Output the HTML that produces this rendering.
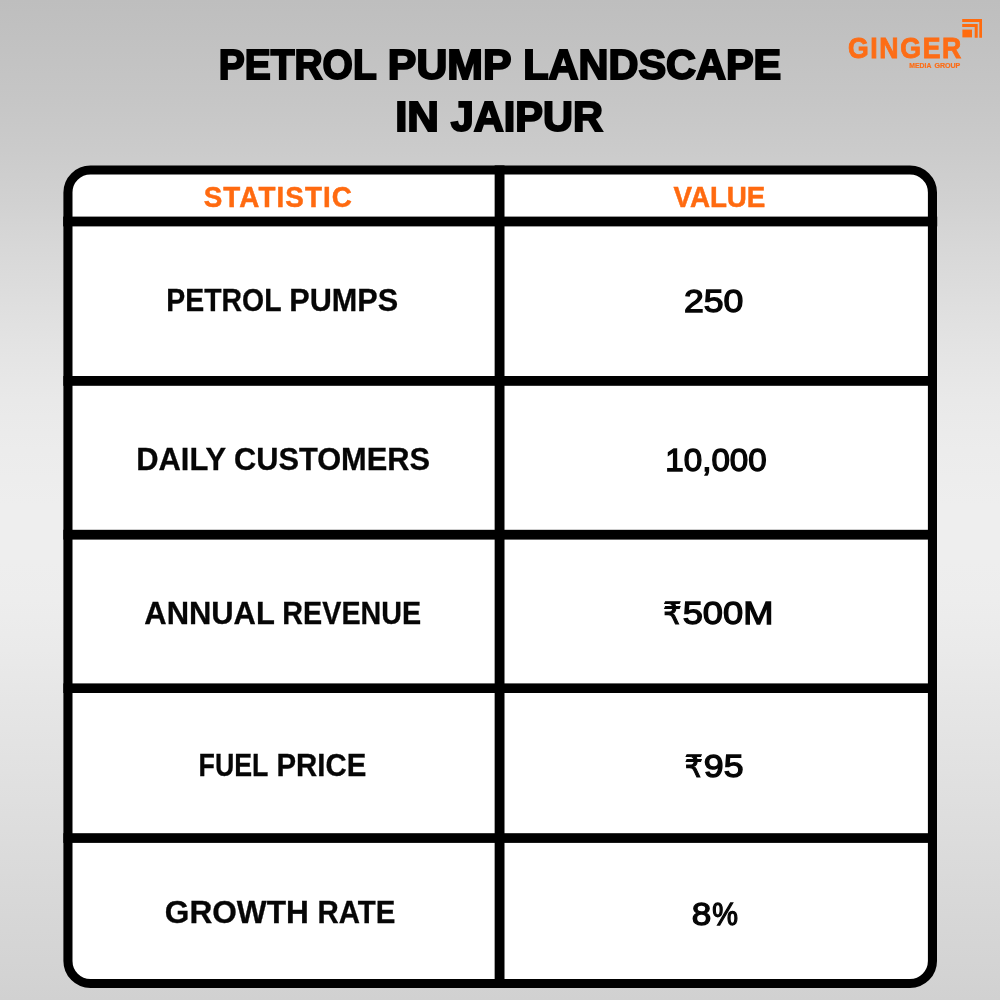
<!DOCTYPE html>
<html lang="en">
<head>
<meta charset="utf-8">
<title>Petrol Pump Landscape in Jaipur</title>
<style>
html,body{margin:0;padding:0;background:#cfcfcf;}
body{width:1000px;height:1000px;overflow:hidden;}
svg{display:block;will-change:transform;}
text{font-family:"Liberation Sans","DejaVu Sans",sans-serif;font-weight:700;stroke-linejoin:miter;stroke-miterlimit:3;}
</style>
</head>
<body>
<svg width="1000" height="1000" viewBox="0 0 1000 1000">
<defs>
<linearGradient id="bg" x1="0" y1="0" x2="0" y2="1">
<stop offset="0.000" stop-color="#bebebe"/>
<stop offset="0.100" stop-color="#c6c6c6"/>
<stop offset="0.150" stop-color="#cbcbcb"/>
<stop offset="0.200" stop-color="#d1d1d1"/>
<stop offset="0.250" stop-color="#d8d8d8"/>
<stop offset="0.300" stop-color="#dedede"/>
<stop offset="0.350" stop-color="#e4e4e4"/>
<stop offset="0.400" stop-color="#e9e9e9"/>
<stop offset="0.450" stop-color="#ececec"/>
<stop offset="0.505" stop-color="#eeeeee"/>
<stop offset="0.560" stop-color="#eeeeee"/>
<stop offset="0.600" stop-color="#ededed"/>
<stop offset="0.650" stop-color="#eaeaea"/>
<stop offset="0.700" stop-color="#e6e6e6"/>
<stop offset="0.800" stop-color="#dfdfdf"/>
<stop offset="0.900" stop-color="#d8d8d8"/>
<stop offset="0.975" stop-color="#d3d3d3"/>
<stop offset="1.000" stop-color="#d1d1d1"/>
</linearGradient>
</defs>
<rect x="0" y="0" width="1000" height="1000" fill="url(#bg)"/>
<!-- table -->
<rect x="67.95" y="170.05" width="864.5" height="813.4" rx="22.5" ry="22.5" fill="#ffffff" stroke="#000000" stroke-width="9.1"/>
<g fill="#000000">
<rect x="494.65" y="165.4" width="9.85" height="822.5"/>
<rect x="63.2" y="216.6" width="874" height="9.8"/>
<rect x="63.4" y="376" width="873.6" height="9.8"/>
<rect x="63.4" y="529.8" width="873.6" height="9.8"/>
<rect x="63.4" y="683.4" width="873.6" height="9.6"/>
<rect x="63.4" y="833.2" width="873.6" height="9.7"/>
</g>
<!-- logo mark -->
<g fill="#ff6b0e">
<rect x="962.4" y="29.6" width="9.6" height="7.8"/>
<path d="M962.2 18.9H982V37.8H979.3V22.1H962.2Z"/>
<path d="M962.2 24H977.7V37.8H974.7V27H962.2Z"/>
</g>

<text id="t1" x="218.81" y="79.00" font-size="42.00" fill="#000000" stroke="#000000" stroke-width="2.0" textLength="157.88" lengthAdjust="spacingAndGlyphs">PETROL</text>
<text id="t2" x="387.87" y="79.00" font-size="42.00" fill="#000000" stroke="#000000" stroke-width="2.0" textLength="123.64" lengthAdjust="spacingAndGlyphs">PUMP</text>
<text id="t3" x="523.29" y="79.00" font-size="42.00" fill="#000000" stroke="#000000" stroke-width="2.0" textLength="257.93" lengthAdjust="spacingAndGlyphs">LANDSCAPE</text>
<text id="t4" x="395.17" y="131.00" font-size="42.00" fill="#000000" stroke="#000000" stroke-width="2.0" textLength="43.76" lengthAdjust="spacingAndGlyphs">IN</text>
<text id="t5" x="450.73" y="131.00" font-size="42.00" fill="#000000" stroke="#000000" stroke-width="2.0" textLength="152.18" lengthAdjust="spacingAndGlyphs">JAIPUR</text>
<text id="h1" transform="translate(203.67 207.00) scale(0.93 1)" font-size="29.90" fill="#ff6a10" stroke="#ff6a10" stroke-width="0.5" textLength="159.41" lengthAdjust="spacing">STATISTIC</text>
<text id="h2" transform="translate(673.60 207.00) scale(0.93 1)" font-size="29.90" fill="#ff6a10" stroke="#ff6a10" stroke-width="0.5" textLength="98.55" lengthAdjust="spacing">VALUE</text>
<text id="r1a" x="166.37" y="311.00" font-size="32.20" fill="#060606" stroke="#060606" stroke-width="0.3" textLength="115.17" lengthAdjust="spacingAndGlyphs">PETROL</text>
<text id="r1b" x="289.30" y="311.00" font-size="32.20" fill="#060606" stroke="#060606" stroke-width="0.3" textLength="108.84" lengthAdjust="spacingAndGlyphs">PUMPS</text>
<text id="v1" x="683.91" y="312.00" font-size="32.00" fill="#060606" stroke="#060606" stroke-width="1.3" style="font-weight:400" textLength="59.43" lengthAdjust="spacingAndGlyphs">250</text>
<text id="r2a" x="136.24" y="470.00" font-size="32.20" fill="#060606" stroke="#060606" stroke-width="0.3" textLength="89.88" lengthAdjust="spacingAndGlyphs">DAILY</text>
<text id="r2b" x="233.96" y="470.00" font-size="32.20" fill="#060606" stroke="#060606" stroke-width="0.3" textLength="196.10" lengthAdjust="spacingAndGlyphs">CUSTOMERS</text>
<text id="v2" x="665.28" y="471.00" font-size="32.00" fill="#060606" stroke="#060606" stroke-width="1.3" style="font-weight:400" textLength="101.46" lengthAdjust="spacingAndGlyphs">10,000</text>
<text id="r3a" x="144.31" y="624.00" font-size="32.20" fill="#060606" stroke="#060606" stroke-width="0.3" textLength="130.54" lengthAdjust="spacingAndGlyphs">ANNUAL</text>
<text id="r3b" x="282.36" y="624.00" font-size="32.20" fill="#060606" stroke="#060606" stroke-width="0.3" textLength="138.81" lengthAdjust="spacingAndGlyphs">REVENUE</text>
<text id="v3a" x="663.26" y="624.00" font-size="30.60" fill="#060606" stroke="#060606" stroke-width="1.15" style="font-weight:400" textLength="18.21" lengthAdjust="spacingAndGlyphs">₹</text>
<text id="v3b" x="682.70" y="624.00" font-size="32.00" fill="#060606" stroke="#060606" stroke-width="1.3" style="font-weight:400" textLength="90.70" lengthAdjust="spacingAndGlyphs">500M</text>
<text id="r4a" x="198.58" y="776.00" font-size="32.20" fill="#060606" stroke="#060606" stroke-width="0.3" textLength="69.84" lengthAdjust="spacingAndGlyphs">FUEL</text>
<text id="r4b" x="276.56" y="776.00" font-size="32.20" fill="#060606" stroke="#060606" stroke-width="0.3" textLength="89.69" lengthAdjust="spacingAndGlyphs">PRICE</text>
<text id="v4a" x="684.79" y="777.00" font-size="30.60" fill="#060606" stroke="#060606" stroke-width="1.15" style="font-weight:400" textLength="17.99" lengthAdjust="spacingAndGlyphs">₹</text>
<text id="v4b" x="703.87" y="777.00" font-size="32.00" fill="#060606" stroke="#060606" stroke-width="1.3" style="font-weight:400" textLength="39.66" lengthAdjust="spacingAndGlyphs">95</text>
<text id="r5a" x="164.86" y="923.00" font-size="32.20" fill="#060606" stroke="#060606" stroke-width="0.3" textLength="143.97" lengthAdjust="spacingAndGlyphs">GROWTH</text>
<text id="r5b" x="317.39" y="923.00" font-size="32.20" fill="#060606" stroke="#060606" stroke-width="0.3" textLength="77.94" lengthAdjust="spacingAndGlyphs">RATE</text>
<text id="v5a" x="691.74" y="925.00" font-size="32.00" fill="#060606" stroke="#060606" stroke-width="1.3" style="font-weight:400" textLength="19.52" lengthAdjust="spacingAndGlyphs">8</text>
<text id="v5b" x="712.22" y="925.00" font-size="32.00" fill="#060606" stroke="#060606" stroke-width="1.3" style="font-weight:400" textLength="25.73" lengthAdjust="spacingAndGlyphs">%</text>
<text id="g1" transform="translate(847.89 58.00) scale(0.9 1)" font-size="29.60" fill="#fd6d16" stroke="#fd6d16" stroke-width="0.9" textLength="126.06" lengthAdjust="spacing">GINGER</text>
<text id="g2" x="909.35" y="68.00" font-size="7.20" fill="#fd6d16" stroke="#fd6d16" stroke-width="0.2" textLength="22.02" lengthAdjust="spacingAndGlyphs">MEDIA</text>
<text id="g3" x="934.38" y="68.00" font-size="7.20" fill="#fd6d16" stroke="#fd6d16" stroke-width="0.2" textLength="25.97" lengthAdjust="spacingAndGlyphs">GROUP</text>
</svg>
</body>
</html>
